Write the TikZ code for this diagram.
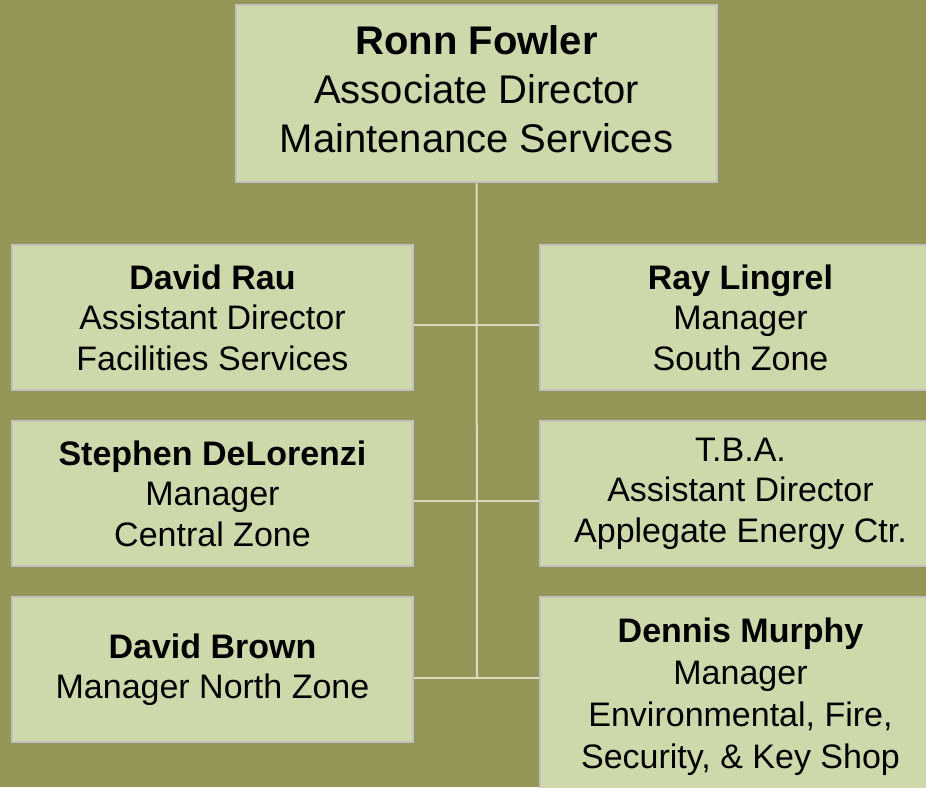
\documentclass[tikz,border=0pt]{standalone}
\usepackage{fontspec}
\setmainfont{Liberation Sans}
\definecolor{bgolive}{RGB}{148,150,88}
\definecolor{boxfill}{RGB}{205,217,170}
\definecolor{boxline}{RGB}{192,192,192}
\definecolor{connline}{RGB}{218,218,190}
\begin{document}
\begin{tikzpicture}[x=1pt,y=-1pt,
  box/.style={draw=boxline, line width=2.5pt, fill=boxfill, align=center, inner sep=0pt, text=black},
  bigbox/.style={box, font=\fontsize{40}{49}\selectfont},
  smallbox/.style={box, font=\fontsize{34}{40.5}\selectfont, minimum width=401pt},
  conn/.style={draw=connline, line width=2pt}]
\useasboundingbox (0,0) rectangle (926,787);
\fill[bgolive] (0,0) rectangle (926,787);
\clip (0,0) rectangle (926,787);
% junctions on the trunk
\coordinate (j1) at (477,325);
\coordinate (j2) at (477,501);
\coordinate (j3) at (477,678);
% boxes
\node[bigbox, minimum width=481pt, minimum height=177pt] (top) at (476.5,93.5)
  {\textbf{Ronn Fowler}\\Associate Director\\Maintenance Services\\[-41pt]};
\node[smallbox, minimum height=145pt] (l1) at (212.5,317.5)
  {\textbf{David Rau}\\Assistant Director\\Facilities Services};
\node[smallbox, minimum height=145pt] (l2) at (212.5,493.5)
  {\textbf{Stephen DeLorenzi}\\Manager\\Central Zone};
\node[smallbox, minimum height=145pt] (l3) at (212.5,669.5)
  {\textbf{David Brown}\\Manager North Zone};
\node[smallbox, minimum height=145pt] (r1) at (740.5,317.5)
  {\textbf{Ray Lingrel}\\Manager\\South Zone};
\node[smallbox, minimum height=145pt] (r2) at (740.5,493.5)
  {T.B.A.\\Assistant Director\\Applegate Energy Ctr.};
\node[smallbox, minimum height=200pt, font=\fontsize{34}{42}\selectfont] (r3) at (740.5,697)
  {\textbf{Dennis Murphy}\\Manager\\Environmental, Fire,\\Security, \& Key Shop};
\draw[conn] (top.south) -- (j3);
\draw[conn] (l1.east |- j1) -- (r1.west |- j1);
\draw[conn] (l2.east |- j2) -- (r2.west |- j2);
\draw[conn] (l3.east |- j3) -- (r3.west |- j3);
\end{tikzpicture}
\end{document}
